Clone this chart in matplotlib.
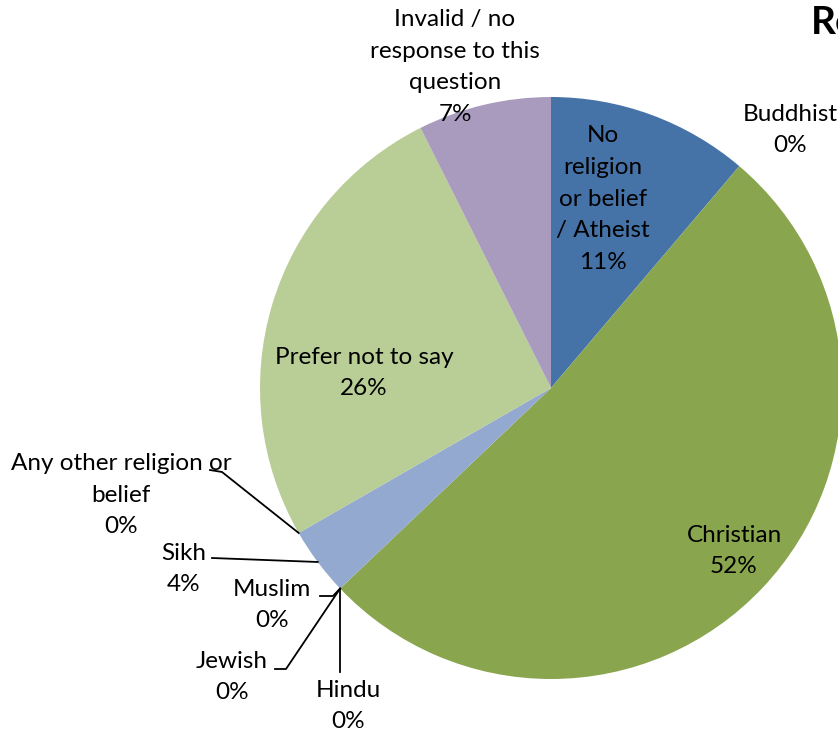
import matplotlib
matplotlib.use("Agg")
import matplotlib.pyplot as plt
import numpy as np

plt.rcParams["font.family"] = ["Lato", "DejaVu Sans"]

# Share of respondents per answer, clockwise from 12 o'clock.
categories = [
    "No\nreligion\nor belief\n/ Atheist",
    "Buddhist",
    "Christian",
    "Hindu",
    "Jewish",
    "Muslim",
    "Sikh",
    "Any other religion or\nbelief",
    "Prefer not to say",
    "Invalid / no\nresponse to this\nquestion",
]
shares = [11.2, 0.0, 51.7, 0.0, 0.0, 0.0, 3.8, 0.0, 25.9, 7.4]
colors = ["#4572A7", "#AA4643", "#89A54E", "#71588F", "#4198AF",
          "#DB843D", "#93A9CF", "#D19392", "#B9CD96", "#A99BBD"]

W, H = 838, 738
CX, CY, R = 551, 350, 291

# label placement (pixel coords, y from the top) and which leader line to draw
label_xy = {
    0: (603, 199, False),
    1: (790, 130, False),
    2: (734, 551, False),
    3: (348, 706, "hindu"),
    4: (232, 677, "jewish"),
    5: (272, 605, "muslim"),
    6: (184, 569, "sikh"),
    7: (121, 495, "other"),
    8: (364, 373, False),
    9: (455, 67, False),
}

fig = plt.figure(figsize=(W / 100, H / 100), dpi=100)
ax = fig.add_axes([0, 0, 1, 1])

wedges, _ = ax.pie(shares, colors=colors, startangle=90, counterclock=False,
                   center=(CX, CY), radius=R, frame=True,
                   wedgeprops=dict(linewidth=0))
ax.set_xlim(0, W)
ax.set_ylim(0, H)
ax.set_aspect("equal")
ax.axis("off")


def edge_point(w):
    a = np.deg2rad((w.theta1 + w.theta2) / 2)
    return CX + R * np.cos(a), CY + R * np.sin(a)


total = sum(shares)
for i, (w, name, val) in enumerate(zip(wedges, categories, shares)):
    x, y, leader = label_xy[i]
    ax.text(x, H - y, f"{name}\n{round(val / total * 100):.0f}%",
            ha="center", va="center", fontsize=17.5, linespacing=1.62)
    if not leader:
        continue
    px, py = edge_point(w)
    if leader == "hindu":
        path = [(px, H - 672), (px, py)]
    elif leader == "jewish":
        path = [(275, H - 669), (286, H - 669), (px, py)]
    elif leader == "muslim":
        path = [(320, H - 596), (333, H - 596), (px, py)]
    elif leader == "sikh":
        path = [(212, H - 558), (px, py)]
    else:
        path = [(210, H - 470), (222, H - 472), (px, py)]
    xs, ys = zip(*path)
    ax.plot(xs, ys, color="black", linewidth=1.3)

ax.text(811, H - 22, "Religion", fontsize=28, fontweight="bold",
        ha="left", va="center")

fig.savefig("out.png", dpi=100)
